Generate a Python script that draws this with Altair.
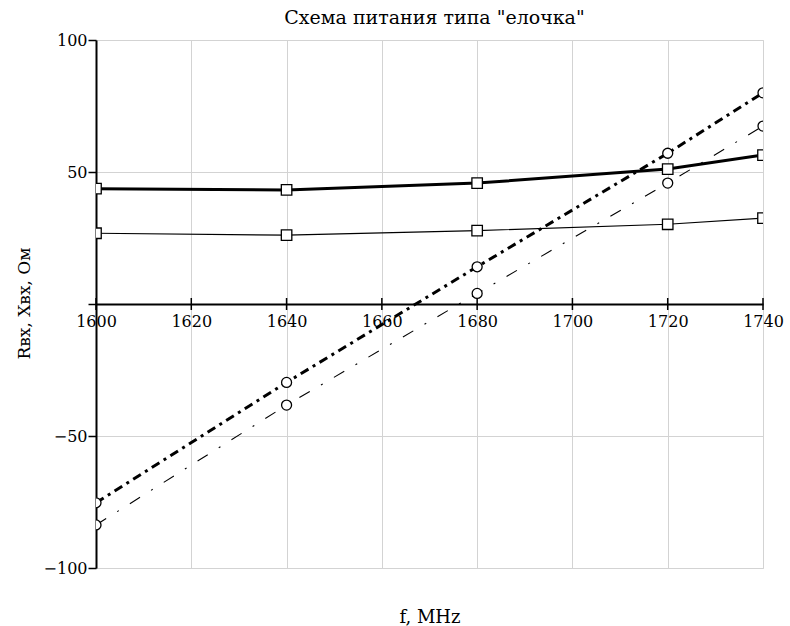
import altair as alt
import pandas as pd

freq = [1600, 1640, 1680, 1720, 1740]
r_thick = [43.7, 43.2, 45.8, 51.1, 56.4]
r_thin = [26.8, 26.1, 27.8, 30.2, 32.5]
x_thick = [-75.3, -29.7, 14.1, 57.1, 80.0]
x_thin = [-83.7, -38.3, 4.0, 45.8, 67.4]

x_ticks = [1600, 1620, 1640, 1660, 1680, 1700, 1720, 1740]
y_ticks = [-100, -50, 0, 50, 100]

title_text = 'Схема питания типа "елочка"'
y_title = "Rвх, Xвх, Ом"
x_title = "f, MHz"

FONT = "DejaVu Serif"

def frame(vals):
    return pd.DataFrame({"f": freq, "v": vals})

xs = alt.Scale(domain=[1600, 1740], nice=False, zero=False)
ys = alt.Scale(domain=[-100, 100], nice=False)

x_axis = alt.Axis(
    values=x_ticks, format="d", offset=-264, ticks=False, labelPadding=9,
    domainColor="black", domainWidth=2, gridColor="#d3d3d3", gridWidth=1,
    labelFont=FONT, labelFontSize=16, labelColor="black", labelFlush=False,
    title=x_title, titleFont=FONT, titleFontSize=18, titleFontWeight="normal",
    titleColor="black", titleY=318, titleBaseline="alphabetic",
)
y_axis = alt.Axis(
    values=y_ticks, tickSize=8, tickColor="black", tickWidth=1.5,
    labelExpr="datum.value == 0 ? '' : datum.label", labelPadding=1,
    domainColor="black", domainWidth=2, gridColor="#d3d3d3", gridWidth=1,
    labelFont=FONT, labelFontSize=16, labelColor="black", labelFlush=False,
    title=y_title, titleFont=FONT, titleFontSize=17, titleFontWeight="normal",
    titleColor="black", titleX=-63, titleY=263,
)

X = alt.X("f:Q", scale=xs, axis=x_axis)
Y = alt.Y("v:Q", scale=ys, axis=y_axis)

def line_layer(vals, width, dash=None, shape="square"):
    kw = dict(color="black", strokeWidth=width, clip=True, strokeCap="butt")
    if dash:
        kw["strokeDash"] = dash
    base = alt.Chart(frame(vals))
    ln = base.mark_line(**kw).encode(x=X, y=Y)
    pt = base.mark_point(shape=shape, size=110 if shape == "square" else 100,
                         filled=True, fill="white", stroke="black",
                         strokeWidth=1.3, opacity=1, clip=True).encode(x=X, y=Y)
    return ln + pt

axes = alt.Chart(pd.DataFrame({"f": x_ticks, "v": [0] * len(x_ticks)})).mark_tick(
    orient="vertical", size=12, thickness=1.5, color="black", opacity=1
).encode(x=X, y=Y)

chart = alt.layer(
    axes,
    line_layer(r_thin, 1.2),
    line_layer(r_thick, 3),
    line_layer(x_thin, 1.1, [12, 13, 2, 13], "circle"),
    line_layer(x_thick, 3, [9, 5, 3, 5], "circle"),
).properties(
    width=667, height=528,
    title=alt.TitleParams(title_text, font=FONT, fontSize=19, fontWeight="normal",
                          color="black", anchor="middle", offset=4, dx=5),
    autosize=alt.AutoSizeParams(type="none"),
    padding={"left": 96, "top": 40, "right": 27, "bottom": 58},
).configure_view(stroke=None).configure(background="white")

chart.save("out.html", embed_options={"renderer": "svg", "actions": False})
